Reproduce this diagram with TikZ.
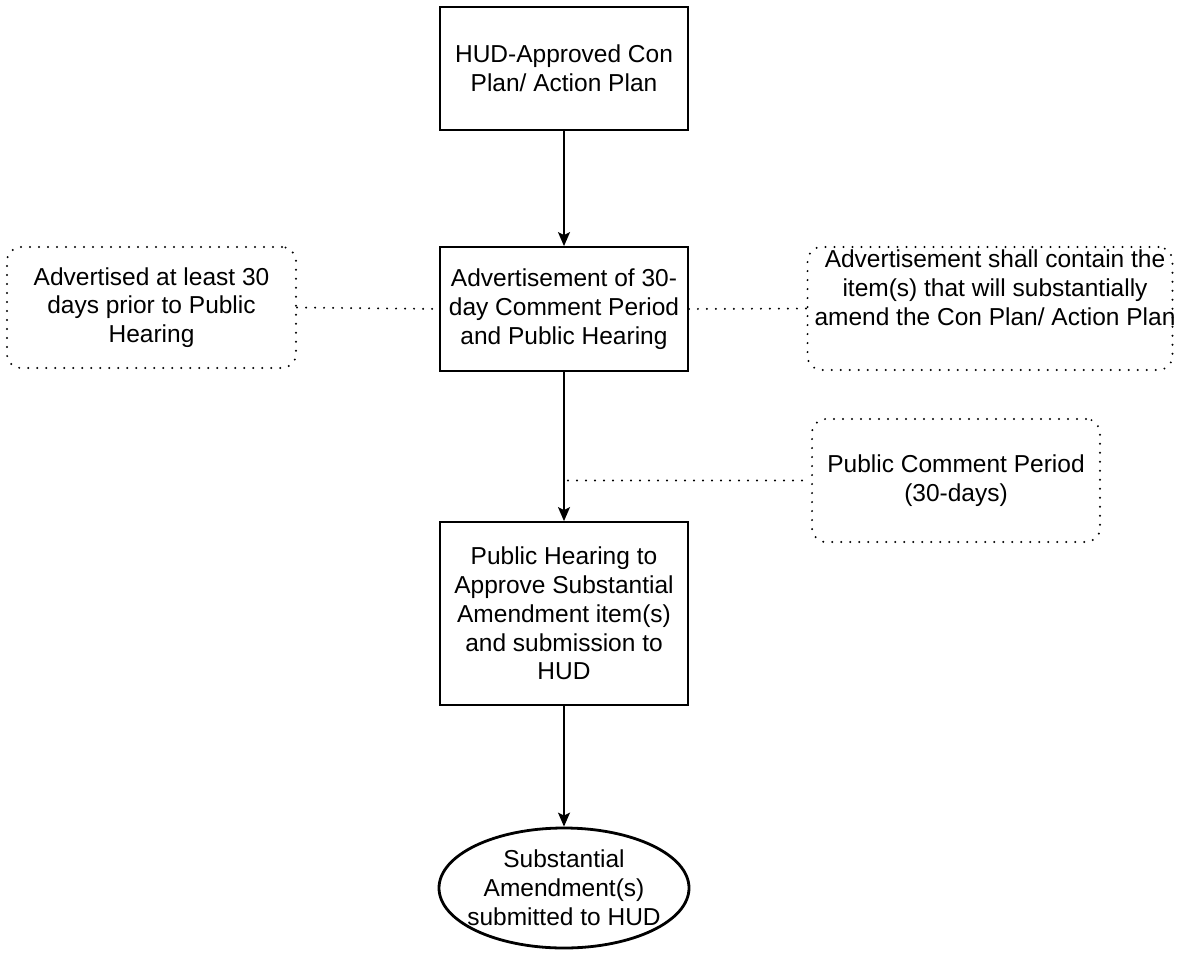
\documentclass[tikz,border=0pt]{standalone}
\usepackage{fontspec}
\setmainfont{Liberation Sans}
\usetikzlibrary{arrows.meta,shapes.geometric}
\begin{document}
\begin{tikzpicture}[x=1pt,y=-1pt,
  every node/.style={font=\fontsize{24.5}{28.8}\selectfont, align=center, inner sep=0pt},
  mainbox/.style={draw, line width=1.8pt, rectangle, minimum width=248pt},
  sidebox/.style={draw, rectangle, rounded corners=14pt, line width=2.2pt,
     dash pattern=on 0pt off 9pt, line cap=round},
  dotline/.style={line width=2.2pt, dash pattern=on 0pt off 9pt, line cap=round},
  arr/.style={line width=1.7pt, -{Stealth[length=14pt,width=12pt,inset=3pt]}},
  endnode/.style={draw, ellipse, line width=2.8pt, inner xsep=-10pt, minimum width=250pt, minimum height=120pt}
]
\useasboundingbox (0,0) rectangle (1183,953);

\node[mainbox, minimum height=123pt] (top) at (564,68.5) {HUD-Approved Con\\Plan/ Action Plan};
\node[mainbox, minimum height=124pt] (adv) at (564,309) {Advertisement of 30-\\day Comment Period\\and Public Hearing};
\node[mainbox, minimum height=183pt] (hear) at (564,613.5) {Public Hearing to\\Approve Substantial\\Amendment item(s)\\and submission to\\HUD};
\node[endnode] (sub) at (564,888) {Substantial\\Amendment(s)\\submitted to HUD};

\node[sidebox, minimum width=289pt, minimum height=121pt] (left) at (151.5,307.5) {Advertised at least 30\\days prior to Public\\Hearing};
\node[sidebox, minimum width=365pt, minimum height=123pt] (right) at (990,308.5) {};
\node (righttext) at (995,288) {Advertisement shall contain the\\item(s) that will substantially\\amend the Con Plan/ Action Plan};
\node[sidebox, minimum width=288pt, minimum height=123pt] (pub) at (956,480.5) {Public Comment Period\\(30-days)};

\draw[arr] (top) -- (adv);
\draw[arr] (adv) -- (hear);
\draw[arr] (hear) -- (sub);

\coordinate (tap) at (568,480.5);
\draw[dotline] (left.east) -- (adv.west);
\draw[dotline] (adv.east) -- (right.west);
\draw[dotline] (tap) -- (pub.west);
\end{tikzpicture}
\end{document}
